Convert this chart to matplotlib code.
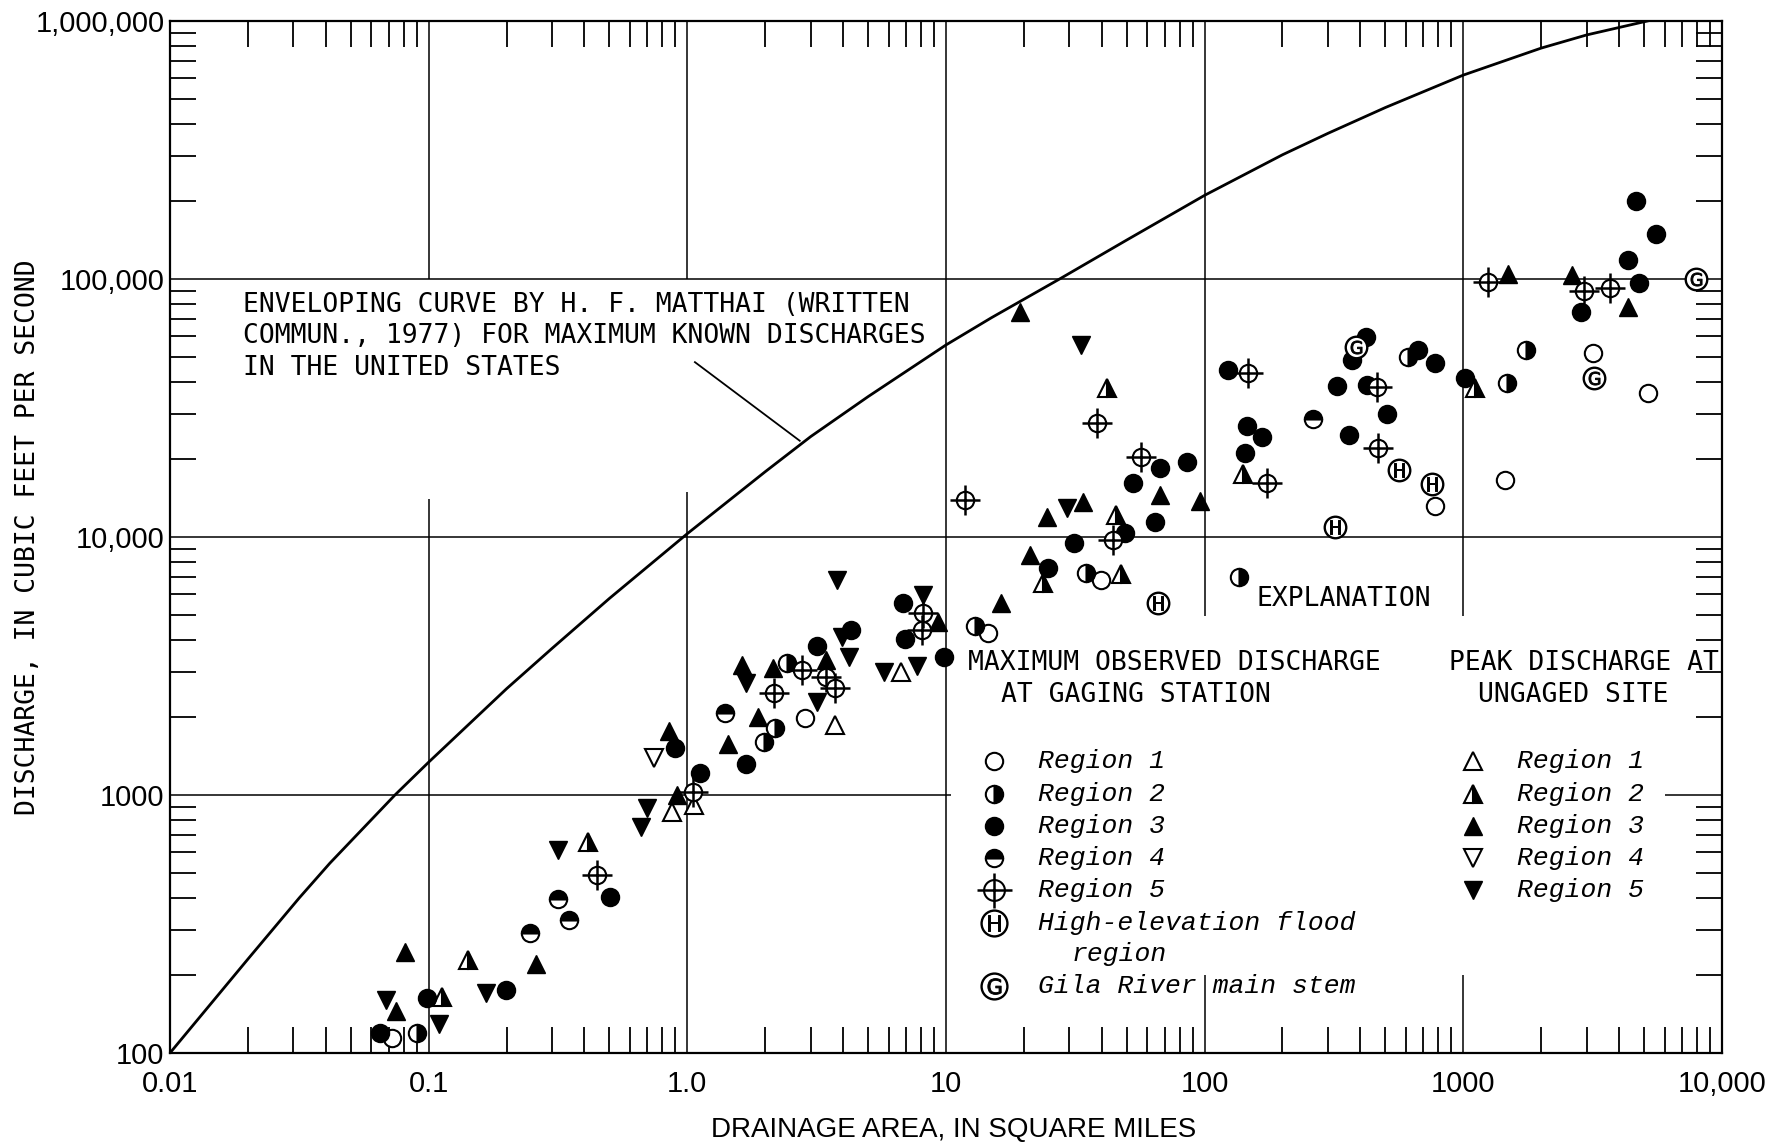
import numpy as np
import matplotlib
matplotlib.use("Agg")
import matplotlib.pyplot as plt
from matplotlib.ticker import FixedLocator, FixedFormatter, LogLocator, NullFormatter

# enveloping curve by Matthai
env_area = [0.01, 0.02, 0.0316, 0.0415, 0.0741, 0.1, 0.2, 0.3, 0.5, 1.0, 2.0, 3.0, 5.0,
            10, 15, 27.5, 50, 100, 200, 300, 500, 1000, 2000, 3000, 5150]
env_q = [100, 231, 399, 544, 1000, 1340, 2580, 3700, 5780, 10300, 17900, 24500, 35000,
         55500, 70800, 100000, 141600, 211000, 303000, 367000, 462000, 617000, 785000, 883000, 1000000]

# maximum observed discharge at gaging stations
g1_area = [0.0719, 2.85, 14.5, 39.7, 776, 1449, 3180, 5180]
g1_q = [114, 1980, 4260, 6810, 13200, 16600, 51500, 36000]

g2_area = [0.0904, 1.98, 2.19, 2.42, 12.9, 34.7, 136, 612, 1476, 1754]
g2_q = [119, 1610, 1820, 3260, 4520, 7270, 6980, 50000, 39400, 53000]

g3_area = [0.0649, 0.0989, 0.199, 0.502, 0.895, 1.12, 1.69, 3.18, 4.31, 6.84, 6.93, 9.82,
           24.8, 31.3, 49.2, 52.9, 64.2, 67.1, 85.6, 123, 146, 143, 166, 325, 362, 370,
           419, 423, 508, 669, 776, 1014, 4640, 5550, 4340, 4780, 2840]
g3_q = [120, 163, 175, 403, 1517, 1214, 1318, 3780, 4340, 5560, 4010, 3440,
        7560, 9450, 10400, 16200, 11400, 18500, 19500, 44400, 26900, 21100, 24500, 38500, 24900, 48500,
        59800, 38800, 30000, 53000, 47100, 41500, 201000, 150000, 118000, 96200, 74700]

g4_area = [0.247, 0.317, 0.348, 1.40, 263]
g4_q = [291, 394, 328, 2070, 28600]

g5_area = [0.446, 1.055, 2.16, 2.77, 3.43, 3.73, 8.17, 8.05, 11.8, 38.5, 57.0, 44.3,
           147, 175, 462, 466, 1247, 2930, 3680]
g5_q = [490, 1030, 2490, 3050, 2870, 2590, 5090, 4360, 13900, 27600, 20400, 9730,
        43100, 16200, 38300, 22100, 97600, 90100, 92000]

high_area = [66.1, 318, 565, 754]
high_q = [5530, 10960, 18200, 16000]

gila_area = [385, 3200, 7920]
gila_q = [54700, 41200, 100000]

# peak discharge at ungaged sites
u1_area = [0.869, 1.06, 3.73, 6.73]
u1_q = [862, 915, 1870, 3000]

u2_area = [0.113, 0.1416, 0.414, 23.8, 41.8, 45.6, 47.4, 141, 1107]
u2_q = [165, 229, 659, 6620, 37700, 12200, 7190, 17500, 37700]

u3_area = [0.0745, 0.0809, 0.260, 0.851, 0.91, 1.43, 1.62, 1.87, 2.15, 3.45, 9.33, 16.3,
           19.3, 21.2, 24.5, 33.9, 67.1, 95.8, 1490, 2640, 4340]
u3_q = [146, 247, 221, 1775, 1000, 1580, 3190, 2010, 3100, 3340, 4700, 5560,
        74700, 8520, 12000, 13700, 14500, 13800, 105000, 104000, 77700]

u4_area = [0.743]
u4_q = [1388]

u5_area = [0.0684, 0.1097, 0.166, 0.317, 0.665, 0.70, 1.68, 3.18, 3.80, 3.95, 4.23, 5.75,
           7.74, 8.17, 29.3, 33.4]
u5_q = [160, 129, 170, 612, 753, 888, 2710, 2300, 6810, 4110, 3440, 3000,
        3160, 5960, 13000, 55500]

x_ticks = [0.01, 0.1, 1, 10, 100, 1000, 10000]
x_labels = ["0.01", "0.1", "1.0", "10", "100", "1000", "10,000"]
y_ticks = [100, 1000, 10000, 100000, 1000000]
y_labels = ["100", "1000", "10,000", "100,000", "1,000,000"]

note_lines = ["ENVELOPING CURVE BY H. F. MATTHAI (WRITTEN",
              "COMMUN., 1977) FOR MAXIMUM KNOWN DISCHARGES",
              "IN THE UNITED STATES"]
left_items = ["Region 1", "Region 2", "Region 3", "Region 4", "Region 5",
              "High-elevation flood", "Gila River main stem"]
right_items = ["Region 1", "Region 2", "Region 3", "Region 4", "Region 5"]

MONO = "DejaVu Sans Mono"
SANS = "Liberation Sans"
ITAL = "Liberation Mono"

fig = plt.figure(figsize=(17.71, 11.47), dpi=100)
ax = fig.add_axes([0.0960, 0.0820, 0.8763, 0.8997])
ax.set_xscale("log")
ax.set_yscale("log")
ax.set_xlim(0.01, 10000)
ax.set_ylim(100, 1000000)

# partial grid lines, as drawn on the original
ax.vlines(0.1, 1e5, 1e6, color="black", lw=1.1)
ax.vlines(0.1, 100, 1.4e4, color="black", lw=1.1)
ax.vlines(1.0, 1e5, 1e6, color="black", lw=1.1)
ax.vlines(1.0, 100, 1.5e4, color="black", lw=1.1)
ax.vlines(10, 100, 1e6, color="black", lw=1.1)
for xv in (100, 1000):
    ax.vlines(xv, 4950, 1e6, color="black", lw=1.1)
    ax.vlines(xv, 100, 200, color="black", lw=1.1)
ax.hlines([1e5, 1e4], 0.01, 1e4, color="black", lw=1.1)
ax.hlines(1000, 0.01, 10.5, color="black", lw=1.1)
ax.hlines(1000, 6000, 1e4, color="black", lw=1.1)

# enveloping curve and its leader
ax.plot(env_area, env_q, color="black", lw=2.0, zorder=3, solid_joinstyle="round")
ax.plot([1.07, 2.72], [47600, 23600], color="black", lw=1.3, zorder=3)
for i, line in enumerate(note_lines):
    ax.text(0.047, 0.7248 - i * 0.0305, line, transform=ax.transAxes, fontsize=19,
            family=MONO, va="center", ha="left")

ms_c = 12.5
ms_t = 13.5


def circle(x, y, trans=None, **kw):
    opts = dict(ls="none", marker="o", ms=ms_c, mec="black", mew=1.5, zorder=6, clip_on=False)
    opts.update(kw)
    if trans is not None:
        opts["transform"] = trans
    ax.plot(x, y, **opts)


def draw_set(kind, x, y, trans=None, big=1.0):
    if kind == "g1":
        circle(x, y, trans, mfc="white")
    elif kind == "g2":
        circle(x, y, trans, mfc="black", fillstyle="right", markerfacecoloralt="white")
    elif kind == "g3":
        circle(x, y, trans, mfc="black")
    elif kind == "g4":
        circle(x, y, trans, mfc="black", fillstyle="top", markerfacecoloralt="white")
    elif kind == "g5":
        circle(x, y, trans, mfc="white", ms=ms_c * big)
        circle(x, y, trans, marker="+", ms=21 * big, mew=1.8, zorder=7)
    elif kind in ("high", "gila"):
        circle(x, y, trans, mfc="white", ms=15.5 * big, mew=1.7)
        letter = r"$\mathsf{H}$" if kind == "high" else r"$\mathsf{G}$"
        circle(x, y, trans, marker=letter, ms=9.5 * big, mew=0.7, mfc="black", zorder=7)
    elif kind == "u1":
        circle(x, y, trans, marker="^", ms=ms_t, mfc="white")
    elif kind == "u2":
        circle(x, y, trans, marker="^", ms=ms_t, mfc="black", fillstyle="right",
               markerfacecoloralt="white")
    elif kind == "u3":
        circle(x, y, trans, marker="^", ms=ms_t, mfc="black", mew=1.0)
    elif kind == "u4":
        circle(x, y, trans, marker="v", ms=ms_t, mfc="white")
    elif kind == "u5":
        circle(x, y, trans, marker="v", ms=ms_t, mfc="black", mew=1.0)


draw_set("g1", g1_area, g1_q)
draw_set("g2", g2_area, g2_q)
draw_set("g4", g4_area, g4_q)
draw_set("u1", u1_area, u1_q)
draw_set("u2", u2_area, u2_q)
draw_set("u4", u4_area, u4_q)
draw_set("g3", g3_area, g3_q)
draw_set("u3", u3_area, u3_q)
draw_set("u5", u5_area, u5_q)
draw_set("g5", g5_area, g5_q)
draw_set("high", high_area, high_q)
draw_set("gila", gila_area, gila_q)

# explanation
ta = ax.transAxes
head = dict(transform=ta, fontsize=19, family=MONO, va="center")
ax.text(0.7004, 0.440, "EXPLANATION", **head)
ax.text(0.514, 0.378, "MAXIMUM OBSERVED DISCHARGE", **head)
ax.text(0.5354, 0.347, "AT GAGING STATION", **head)
ax.text(0.824, 0.378, "PEAK DISCHARGE AT", **head)
ax.text(0.843, 0.347, "UNGAGED SITE", **head)

left_rows = [0.283, 0.251, 0.220, 0.189, 0.158, 0.126, 0.065]
left_kinds = ["g1", "g2", "g3", "g4", "g5", "high", "gila"]
for row, kind, label in zip(left_rows, left_kinds, left_items):
    draw_set(kind, [0.531], [row], trans=ta, big=1.2)
    ax.text(0.5593, row, label, transform=ta, fontsize=19, family=ITAL, style="italic", va="center")
ax.text(0.5806, 0.096, "region", transform=ta, fontsize=19, family=ITAL, style="italic", va="center")

right_kinds = ["u1", "u2", "u3", "u4", "u5"]
for row, kind, label in zip(left_rows[:5], right_kinds, right_items):
    draw_set(kind, [0.8396], [row], trans=ta)
    ax.text(0.868, row, label, transform=ta, fontsize=19, family=ITAL, style="italic", va="center")

# axes, ticks and labels
ax.xaxis.set_major_locator(FixedLocator(x_ticks))
ax.xaxis.set_major_formatter(FixedFormatter(x_labels))
ax.yaxis.set_major_locator(FixedLocator(y_ticks))
ax.yaxis.set_major_formatter(FixedFormatter(y_labels))
ax.xaxis.set_minor_locator(LogLocator(base=10, subs=np.arange(2, 10), numticks=20))
ax.yaxis.set_minor_locator(LogLocator(base=10, subs=np.arange(2, 10), numticks=20))
ax.xaxis.set_minor_formatter(NullFormatter())
ax.yaxis.set_minor_formatter(NullFormatter())
ax.tick_params(which="minor", direction="in", length=18.5, width=1.3,
               top=True, right=True, bottom=True, left=True)
ax.tick_params(which="major", length=0, labelsize=21)
ax.tick_params(axis="x", which="major", pad=12)
ax.tick_params(axis="y", which="major", pad=4)
for lab in ax.get_xticklabels() + ax.get_yticklabels():
    lab.set_family(SANS)
for sp in ax.spines.values():
    sp.set_linewidth(1.6)

fig.text(28 / 1771, 1 - 537 / 1147, "DISCHARGE, IN CUBIC FEET PER SECOND", rotation=90,
         fontsize=19, family=MONO, ha="center", va="center")
fig.text(954 / 1771, 1 - 1130 / 1147, "DRAINAGE AREA, IN SQUARE MILES",
         fontsize=20, family=SANS, ha="center", va="center")

fig.savefig("out.png", dpi=100)
